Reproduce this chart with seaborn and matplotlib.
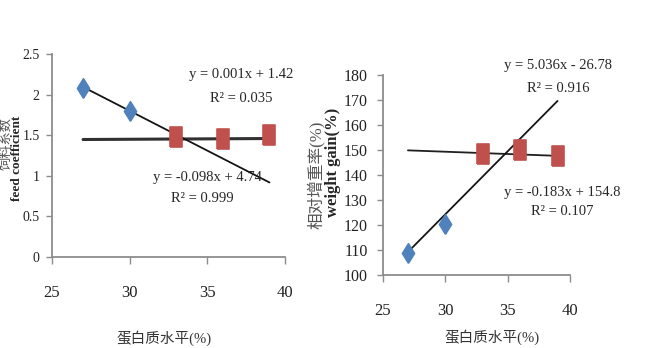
import matplotlib
matplotlib.use('Agg')
import matplotlib.pyplot as plt
import seaborn as sns
import pandas as pd
import numpy as np

# ---------------- data ----------------
protein_low = [27, 30]
protein_high = [33, 36, 39]
feed_low = [2.08, 1.80]
feed_high = [1.48, 1.45, 1.50]
gain_low = [109, 120.5]
gain_high = [148.5, 150, 147.5]
fit_x = [27, 39]
feed_fit_low = (-0.098, 4.74)
feed_fit_high = (0.001, 1.42)
gain_fit_low = (5.036, -26.78)
gain_fit_high = (-0.183, 154.8)
x_ticks = [25, 30, 35, 40]
feed_ticks = [0, 0.5, 1, 1.5, 2, 2.5]
feed_tick_labels = ["0", "0.5", "1", "1.5", "2", "2.5"]
gain_ticks = [100, 110, 120, 130, 140, 150, 160, 170, 180]
feed_eq_high = ["y = 0.001x + 1.42", "R\u00b2 = 0.035"]
feed_eq_low = ["y = -0.098x + 4.74", "R\u00b2 = 0.999"]
gain_eq_low = ["y = 5.036x - 26.78", "R\u00b2 = 0.916"]
gain_eq_high = ["y = -0.183x + 154.8", "R\u00b2 = 0.107"]

sns.set_theme(style="white")
plt.rcParams['font.family'] = ['Liberation Serif', 'Noto Sans CJK SC']

BLUE = '#4F81BD'
RED = '#C0504D'
GRAY = '#8c8c8c'

diamond = [(0, -1), (0.62, 0), (0, 1), (-0.62, 0), (0, -1)]
rect = [(-0.62, -1), (0.62, -1), (0.62, 1), (-0.62, 1), (-0.62, -1)]

fig = plt.figure(figsize=(6.5, 3.48), dpi=100)
ax1 = fig.add_axes([52/650, 1-257/348, (285-52)/650, (257-54)/348])
ax2 = fig.add_axes([383/650, 1-275/348, (570-383)/650, (275-75)/348])


def fit_df(coef):
    xs = np.array(fit_x, dtype=float)
    return pd.DataFrame({'x': xs, 'y': coef[0]*xs + coef[1]})


def style_axes(ax, ylim, yticks, ylabels=None, ysize=11.5, ypad=7):
    ax.set_xlim(25, 40)
    ax.set_ylim(*ylim)
    ax.set_xticks(x_ticks)
    ax.set_yticks(yticks)
    if ylabels is not None:
        ax.set_yticklabels(ylabels)
    ax.set_xlabel('')
    ax.set_ylabel('')
    for s in ['top', 'right']:
        ax.spines[s].set_visible(False)
    for s in ['left', 'bottom']:
        ax.spines[s].set_color(GRAY)
        ax.spines[s].set_linewidth(1.3)
    ax.tick_params(axis='x', direction='out', length=5, color=GRAY, width=1,
                   pad=15, labelsize=12, bottom=True, labelcolor='#222222')
    ax.tick_params(axis='y', direction='out', length=4, color=GRAY, width=1,
                   pad=ypad, labelsize=ysize, left=True, labelcolor='#222222')
    ax.patch.set_alpha(0)


# ---- left panel ----
sns.lineplot(data=fit_df(feed_fit_high), x='x', y='y', ax=ax1, color='#303030', lw=2.2)
sns.lineplot(data=fit_df(feed_fit_low), x='x', y='y', ax=ax1, color='#151515', lw=1.3)
sns.scatterplot(x=protein_low, y=feed_low, ax=ax1, marker=diamond, s=200,
                color=BLUE, edgecolor=BLUE, zorder=3)
sns.scatterplot(x=protein_high, y=feed_high, ax=ax1, marker=rect, s=220,
                color=RED, edgecolor=RED, zorder=3)
style_axes(ax1, (0, 2.5), feed_ticks, feed_tick_labels, ysize=10, ypad=5)

ax1.text(37.2, 2.25, feed_eq_high[0], ha='center', va='center', fontsize=10.5)
ax1.text(37.2, 1.95, feed_eq_high[1], ha='center', va='center', fontsize=10.5)
ax1.text(35.0, 0.98, feed_eq_low[0], ha='center', va='center', fontsize=10.5)
ax1.text(34.7, 0.72, feed_eq_low[1], ha='center', va='center', fontsize=10.5)

# ---- right panel ----
sns.lineplot(data=fit_df(gain_fit_high), x='x', y='y', ax=ax2, color='#202020', lw=1.3)
sns.lineplot(data=fit_df(gain_fit_low), x='x', y='y', ax=ax2, color='#151515', lw=1.3)
sns.scatterplot(x=protein_low, y=gain_low, ax=ax2, marker=diamond, s=200,
                color=BLUE, edgecolor=BLUE, zorder=3)
sns.scatterplot(x=protein_high, y=gain_high, ax=ax2, marker=rect, s=220,
                color=RED, edgecolor=RED, zorder=3)
style_axes(ax2, (100, 180), gain_ticks)

ax2.text(39.05, 183.9, gain_eq_low[0], ha='center', va='center', fontsize=10.5, clip_on=False)
ax2.text(39.05, 174.5, gain_eq_low[1], ha='center', va='center', fontsize=10.5, clip_on=False)
ax2.text(39.4, 133.0, gain_eq_high[0], ha='center', va='center', fontsize=10.5, clip_on=False)
ax2.text(39.4, 125.5, gain_eq_high[1], ha='center', va='center', fontsize=10.5, clip_on=False)

# ---- axis titles ----
fig.text(6/650, 1-143/348, '饲料系数', rotation=90, ha='center', va='center',
         fontsize=9.5, color='#555555')
fig.text(17/650, 1-158/348, 'feed coefficient', rotation=90, ha='center', va='center',
         fontsize=9.5, fontweight='bold')
fig.text(316/650, 1-175/348, '相对增重率(%)', rotation=90, ha='center', va='center',
         fontsize=12, color='#555555')
fig.text(333/650, 1-162/348, 'weight gain(%)', rotation=90, ha='center', va='center',
         fontsize=12, fontweight='bold')
fig.text(164/650, 1-338/348, '蛋白质水平(%)', ha='center', va='center', fontsize=10.5,
         color='#333333')
fig.text(492/650, 1-337/348, '蛋白质水平(%)', ha='center', va='center', fontsize=10.5,
         color='#333333')

fig.savefig('out.png', dpi=100)
